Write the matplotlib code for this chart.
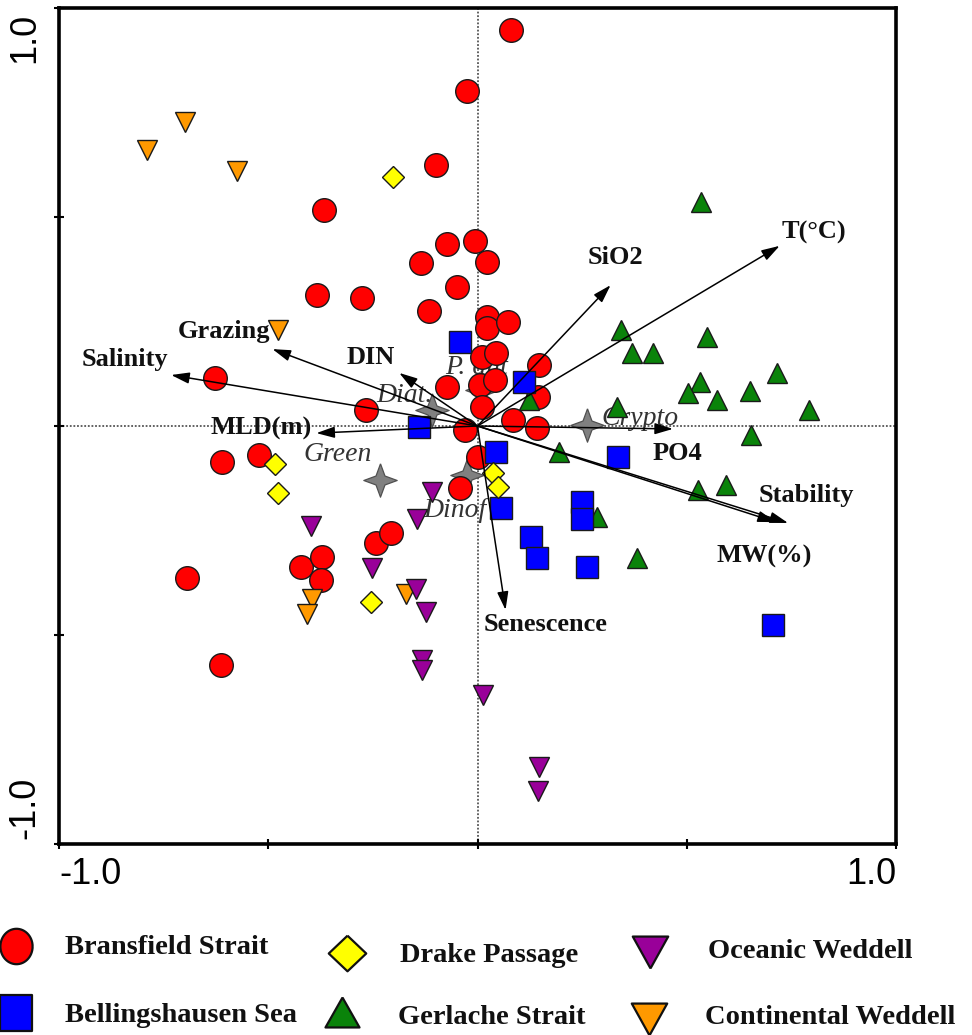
import numpy as np
import matplotlib
matplotlib.use("Agg")
import matplotlib.pyplot as plt

# ---- sample scores (axis 1, axis 2) by region ----
bransfield_x = [0.079, -0.024, -0.098, -0.366, -0.072, -0.005, -0.134, 0.022, -0.050, -0.383,
                -0.275, -0.117, 0.022, 0.022, 0.074, 0.010, 0.045, 0.148, -0.074, 0.005,
                0.041, 0.010, 0.144, 0.084, 0.141, -0.031, -0.627, -0.266, -0.610, -0.522,
                0.000, -0.043, -0.242, -0.206, -0.421, -0.371, -0.373, -0.694, -0.612]
bransfield_y = [0.947, 0.801, 0.624, 0.517, 0.435, 0.443, 0.390, 0.392, 0.333, 0.313,
                0.306, 0.275, 0.261, 0.234, 0.249, 0.165, 0.175, 0.146, 0.093, 0.098,
                0.110, 0.045, 0.069, 0.014, -0.005, -0.010, 0.115, 0.038, -0.086, -0.069,
                -0.074, -0.148, -0.280, -0.256, -0.337, -0.313, -0.368, -0.364, -0.572]

gerlache_x = [0.533, 0.342, 0.368, 0.419, 0.548, 0.531, 0.502, 0.572, 0.651, 0.715,
              0.792, 0.333, 0.653, 0.194, 0.526, 0.593, 0.124, 0.285, 0.380]
gerlache_y = [0.536, 0.230, 0.175, 0.175, 0.213, 0.105, 0.079, 0.062, 0.084, 0.127,
              0.038, 0.045, -0.022, -0.062, -0.153, -0.141, 0.062, -0.218, -0.316]

bellingshausen_x = [-0.043, 0.112, -0.139, 0.045, 0.057, 0.335, 0.249, 0.249, 0.129, 0.141, 0.261, 0.706]
bellingshausen_y = [0.201, 0.105, -0.002, -0.062, -0.196, -0.074, -0.182, -0.222, -0.266, -0.316, -0.337, -0.476]

drake_x = [-0.203, -0.483, -0.476, 0.036, 0.050, -0.254]
drake_y = [0.596, -0.091, -0.160, -0.112, -0.146, -0.421]

continental_x = [-0.789, -0.699, -0.574, -0.476, -0.395, -0.407, -0.170]
continental_y = [0.660, 0.727, 0.610, 0.230, -0.414, -0.450, -0.402]

oceanic_x = [-0.108, -0.144, -0.397, -0.251, -0.148, -0.124, -0.132, -0.132, 0.014, 0.148, 0.144]
oceanic_y = [-0.158, -0.222, -0.239, -0.340, -0.390, -0.445, -0.560, -0.584, -0.644, -0.816, -0.873]

# ---- explanatory variables (arrow tips) ----
env_names = ["Salinity", "Grazing", "DIN", "MLD(m)", "SiO2", "T(°C)",
             "PO4", "Stability", "MW(%)", "Senescence"]
env_x = [-0.732, -0.490, -0.187, -0.385, 0.318, 0.722, 0.467, 0.742, 0.713, 0.067]
env_y = [0.122, 0.184, 0.127, -0.017, 0.337, 0.431, -0.007, -0.232, -0.230, -0.440]
env_label_x = [-0.842, -0.605, -0.254, -0.517, 0.330, 0.804, 0.478, 0.785, 0.684, 0.163]
env_label_y = [0.158, 0.225, 0.165, -0.005, 0.404, 0.464, -0.065, -0.167, -0.311, -0.474]

# ---- supplementary taxa (centroids) ----
taxa_names = ["Diat.", "P. ant", "Crypto", "Green", "Dinof"]
taxa_x = [-0.108, 0.010, 0.261, -0.234, -0.024]
taxa_y = [0.038, 0.086, 0.002, -0.129, -0.117]
taxa_label_x = [-0.175, -0.002, 0.388, -0.335, -0.055]
taxa_label_y = [0.074, 0.139, 0.019, -0.069, -0.201]

tick_values = [-1.0, -0.5, 0.0, 0.5, 1.0]
end_values = [-1.0, 1.0]
end_labels = ["-1.0", "1.0"]

groups = [
    ("Bransfield Strait", bransfield_x, bransfield_y, "o", "#FF0000", 17.0),
    ("Gerlache Strait", gerlache_x, gerlache_y, "^", "#0A830A", 14.5),
    ("Bellingshausen Sea", bellingshausen_x, bellingshausen_y, "s", "#0000FF", 15.5),
    ("Drake Passage", drake_x, drake_y, "D", "#FFFF00", 11.0),
    ("Continental Weddell", continental_x, continental_y, "v", "#FF9900", 14.5),
    ("Oceanic Weddell", oceanic_x, oceanic_y, "v", "#990099", 14.5),
]

serif_b = dict(family="Liberation Serif", weight="bold")
serif_i = dict(family="Liberation Serif", style="italic")

fig = plt.figure(figsize=(9.72, 10.35), dpi=100)
ax = fig.add_axes([59 / 972, 191 / 1035, 837 / 972, 836 / 1035])
ax.set_xlim(-1.0, 1.0)
ax.set_ylim(-1.0, 1.0)

for s in ax.spines.values():
    s.set_linewidth(2.6)

# tick marks only; the end values are written just inside the frame
ax.set_xticks(tick_values)
ax.set_yticks(tick_values)
ax.tick_params(direction="inout", length=7, width=1.5, labelbottom=False, labelleft=False)

for v, lab, ha in zip(end_values, end_labels, ["left", "right"]):
    ax.annotate(lab, xy=(v, 0), xycoords=("data", "axes fraction"),
                xytext=(0, -9), textcoords="offset points", ha=ha, va="top",
                fontsize=26, family="Liberation Sans")
for v, lab, va, dy in zip(end_values, end_labels, ["bottom", "top"], [3.5, -3.5]):
    ax.annotate(lab, xy=(0, v), xycoords=("axes fraction", "data"),
                xytext=(-12, dy), textcoords="offset points", ha="right", va=va,
                rotation=90, fontsize=26, family="Liberation Sans")

# origin cross
ax.axhline(0, color="#555555", lw=1.3, ls=(0, (1, 1)), zorder=1)
ax.axvline(0, color="#555555", lw=1.3, ls=(0, (1, 1)), zorder=1)

# taxa centroids and names (underneath the samples)
ang = np.linspace(np.pi / 2, np.pi / 2 + 2 * np.pi, 9)
rad = np.array([1.0, 0.38] * 4 + [1.0])
star = np.column_stack([rad * np.cos(ang), rad * np.sin(ang)])
ax.plot(taxa_x, taxa_y, ls="none", marker=star, ms=24, mfc="#808080",
        mec="#505050", mew=0.9, zorder=2)
for name, tx, ty in zip(taxa_names, taxa_label_x, taxa_label_y):
    ax.text(tx, ty, name, ha="center", va="center", fontsize=20, color="#333333",
            zorder=2.5, **serif_i)

# samples
for name, gx, gy, mk, col, ms in groups:
    ax.plot(gx, gy, ls="none", marker=mk, ms=ms, mfc=col, mec="#1a1a1a",
            mew=1.0, zorder=3)

# explanatory arrows
for name, ex, ey, lx, ly in zip(env_names, env_x, env_y, env_label_x, env_label_y):
    ax.annotate("", xy=(ex, ey), xytext=(0, 0), zorder=4,
                arrowprops=dict(arrowstyle="-|>,head_length=0.55,head_width=0.17",
                                color="black", lw=1.1, shrinkA=0, shrinkB=0,
                                mutation_scale=20))
    ax.text(lx, ly, name, ha="center", va="center", fontsize=19, color="#111111",
            zorder=5, **serif_b)

# legend panel (pixel coordinates)
lax = fig.add_axes([0, 0, 1, 135 / 1035])
lax.set_xlim(0, 972)
lax.set_ylim(1035, 900)
lax.axis("off")

theta = np.linspace(0, 2 * np.pi, 60)
ellipse = np.column_stack([0.91 * np.cos(theta), np.sin(theta)])
rect = [(-0.89, -1), (0.89, -1), (0.89, 1), (-0.89, 1), (-0.89, -1)]
diamond = [(0, 0.95), (1, 0), (0, -0.95), (-1, 0), (0, 0.95)]
tri_up = [(0, 0.88), (1, -0.88), (-1, -0.88), (0, 0.88)]
tri_dn = [(0, -0.9), (1, 0.9), (-1, 0.9), (0, -0.9)]

legend_items = [
    ("Bransfield Strait", ellipse, "#FF0000", 16, 946, 25.5, 65, 948),
    ("Bellingshausen Sea", rect, "#0000FF", 16, 1013, 25.5, 65, 1016),
    ("Drake Passage", diamond, "#FFFF00", 347, 953, 27, 400, 955),
    ("Gerlache Strait", tri_up, "#0A830A", 342, 1012, 24.5, 398, 1018),
    ("Oceanic Weddell", tri_dn, "#990099", 650, 952, 25.5, 708, 952),
    ("Continental Weddell", tri_dn, "#FF9900", 649, 1019, 25.5, 705, 1018),
]
for name, verts, col, mx, my, ms, tx, ty in legend_items:
    lax.plot([mx], [my], ls="none", marker=verts, ms=ms, mfc=col, mec="#111111", mew=1.6)
    lax.text(tx, ty, name, ha="left", va="center", fontsize=20.5, color="#111111", **serif_b)

fig.savefig("out.png", dpi=100)
